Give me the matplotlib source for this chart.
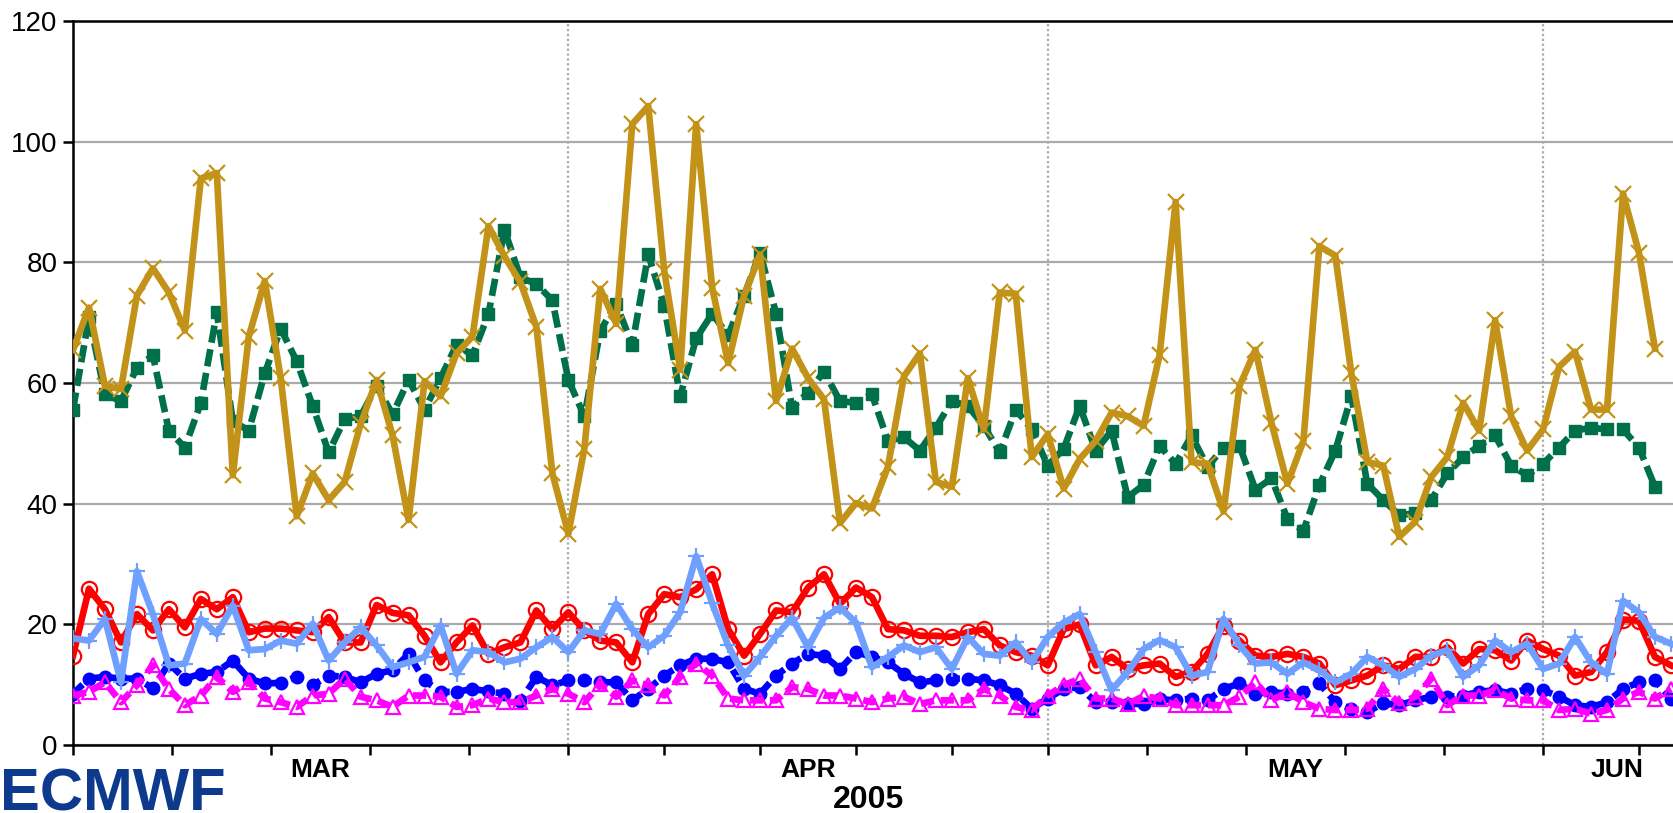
import matplotlib

matplotlib.use("Agg")
import matplotlib.dates as mdates
import matplotlib.pyplot as plt
import matplotlib.transforms as mtransforms
import pandas as pd

START_DATE = "2005-03-01"

# daily values
gold_values = [
    65.5, 72.5, 59.5, 59.0, 74.5, 79.0, 75.0, 68.7, 93.9, 94.8,
    44.7, 67.7, 76.9, 60.8, 37.9, 45.0, 40.6, 43.6, 53.2, 60.5,
    51.3, 37.3, 60.3, 57.8, 64.9, 67.7, 86.0, 81.0, 76.7, 69.3,
    45.0, 35.0, 49.1, 75.6, 69.8, 102.9, 105.9, 78.6, 62.2, 102.9,
    75.8, 63.3, 74.5, 81.3, 57.0, 65.7, 60.8, 57.3, 36.8, 40.1,
    39.2, 46.1, 61.1, 64.9, 43.6, 42.8, 60.8, 52.3, 75.0, 74.8,
    47.7, 51.5, 42.5, 47.4, 50.4, 55.1, 54.5, 52.9, 64.6, 90.0,
    46.9, 46.6, 38.7, 59.5, 65.5, 53.4, 43.3, 50.4, 82.7, 81.1,
    61.6, 46.9, 46.3, 34.5, 37.0, 44.4, 47.7, 56.7, 52.1, 70.4,
    54.5, 48.8, 52.3, 62.7, 65.2, 55.6, 55.6, 91.4, 81.6, 65.7,
]
green_values = [
    55.6, 70.9, 58.1, 57.0, 62.5, 64.6, 52.1, 49.3, 56.7, 71.7,
    53.7, 52.1, 61.6, 69.0, 63.6, 56.2, 48.5, 54.0, 54.5, 59.5,
    54.8, 60.5, 55.6, 60.8, 66.3, 64.6, 71.4, 85.4, 77.5, 76.4,
    73.7, 60.5, 54.5, 68.7, 73.1, 66.3, 81.3, 72.8, 57.8, 67.4,
    71.5, 67.9, 74.5, 81.6, 71.5, 55.9, 58.4, 61.9, 57.0, 56.7,
    58.1, 50.4, 51.0, 48.8, 52.6, 57.0, 56.2, 52.9, 48.5, 55.6,
    52.3, 46.3, 49.1, 56.2, 48.8, 52.1, 41.1, 43.1, 49.6, 46.6,
    51.3, 46.1, 49.3, 49.6, 42.3, 44.2, 37.5, 35.5, 43.1, 48.8,
    57.8, 43.3, 40.6, 38.1, 38.4, 40.6, 45.0, 47.7, 49.6, 51.3,
    46.3, 44.7, 46.6, 49.3, 52.1, 52.6, 52.3, 52.3, 49.3, 42.8,
]
red_values = [
    14.8, 25.9, 22.5, 17.0, 21.7, 19.0, 22.5, 19.5, 24.2, 22.5,
    24.5, 18.7, 19.3, 19.3, 19.0, 18.7, 21.2, 17.0, 17.0, 23.2,
    21.9, 21.5, 18.1, 13.7, 17.0, 19.8, 15.1, 16.2, 17.0, 22.3,
    19.2, 22.0, 19.0, 17.3, 17.0, 13.7, 21.7, 25.0, 24.5, 25.8,
    28.3, 19.2, 14.8, 18.4, 22.3, 22.0, 26.1, 28.3, 23.4, 26.1,
    24.5, 19.2, 19.0, 18.1, 18.1, 17.9, 18.7, 19.2, 16.5, 15.4,
    14.8, 13.2, 19.2, 20.0, 13.2, 14.6, 12.6, 13.2, 13.5, 11.3,
    12.1, 15.1, 19.8, 17.3, 14.8, 14.6, 15.1, 14.6, 13.5, 9.9,
    10.7, 11.5, 13.2, 12.6, 14.6, 14.6, 16.2, 13.5, 15.9, 15.7,
    14.0, 17.3, 15.9, 14.8, 11.5, 12.1, 15.4, 20.8, 20.6, 14.6,
    13.2,
]
lightblue_values = [
    17.7, 17.3, 20.9, 10.4, 28.8, 21.7, 13.2, 13.5, 20.9, 18.4,
    23.1, 15.7, 15.9, 17.3, 16.8, 20.1, 14.0, 17.0, 19.5, 16.5,
    12.9, 13.7, 14.6, 19.8, 11.8, 15.7, 15.4, 13.7, 14.3, 16.2,
    17.9, 15.4, 19.0, 18.4, 23.4, 19.2, 16.2, 18.1, 22.0, 31.3,
    23.5, 16.5, 11.5, 14.6, 18.1, 21.1, 16.2, 21.1, 22.8, 20.3,
    12.9, 14.6, 16.5, 15.4, 16.2, 12.6, 17.9, 15.1, 14.8, 17.0,
    13.7, 17.9, 20.3, 21.7, 15.4, 9.1, 12.1, 15.9, 17.4, 16.2,
    11.5, 12.1, 20.9, 16.5, 13.5, 13.7, 11.8, 13.7, 12.4, 10.4,
    11.8, 14.6, 13.2, 11.3, 12.6, 14.8, 15.7, 11.3, 13.2, 17.3,
    15.4, 16.8, 12.6, 13.5, 17.9, 13.7, 11.8, 23.9, 22.0, 17.9,
    16.8,
]
blue_values = [
    8.5, 11.0, 11.3, 11.0, 11.0, 9.4, 13.5, 11.0, 11.8, 12.1,
    14.0, 11.0, 10.2, 10.3, 11.3, 9.9, 11.5, 11.3, 10.4, 11.8,
    12.4, 15.1, 10.7, 8.8, 8.8, 9.3, 8.9, 8.5, 7.3, 11.3,
    9.9, 10.7, 10.7, 10.4, 10.4, 7.4, 9.3, 11.5, 13.2, 14.3,
    14.3, 13.7, 9.3, 8.5, 11.5, 13.5, 15.1, 14.8, 12.6, 15.4,
    14.6, 13.7, 11.8, 10.4, 10.7, 11.0, 11.0, 10.7, 9.9, 8.5,
    6.0, 7.7, 9.3, 9.6, 7.1, 7.1, 6.8, 6.8, 7.6, 7.4,
    7.7, 7.4, 9.3, 10.2, 8.5, 8.8, 8.5, 8.8, 10.2, 7.1,
    6.0, 5.5, 6.9, 6.6, 7.4, 8.0, 8.0, 8.2, 8.8, 9.1,
    8.5, 9.3, 9.1, 8.0, 6.6, 6.3, 7.1, 9.3, 10.4, 10.7,
    7.7,
]
magenta_values = [
    8.2, 8.8, 10.4, 7.1, 9.9, 13.2, 9.3, 6.6, 8.2, 11.3,
    8.8, 10.4, 7.7, 7.1, 6.3, 8.2, 8.5, 11.0, 8.0, 7.4,
    6.3, 8.2, 8.2, 8.0, 6.3, 6.6, 7.7, 7.1, 7.1, 8.2,
    9.3, 8.5, 7.1, 10.1, 8.0, 10.7, 9.9, 8.2, 11.3, 13.5,
    11.5, 7.7, 7.4, 7.4, 7.4, 9.6, 9.3, 8.2, 8.2, 7.7,
    7.1, 7.7, 8.0, 6.8, 7.4, 7.4, 7.4, 9.3, 8.2, 6.3,
    5.8, 8.2, 9.9, 11.0, 7.7, 7.7, 6.8, 8.1, 7.7, 6.6,
    6.6, 6.6, 6.6, 8.0, 10.4, 7.4, 8.8, 7.1, 6.0, 5.8,
    5.8, 6.0, 9.3, 6.9, 8.0, 11.0, 6.6, 8.2, 8.2, 9.1,
    7.7, 7.4, 7.4, 5.8, 6.0, 5.2, 5.8, 7.7, 8.8, 7.7,
    9.3,
]

month_starts = ["2005-03-01", "2005-04-01", "2005-05-01", "2005-06-01", "2005-07-01"]
month_labels = ["MAR", "APR", "MAY", "JUN"]
year_label = "2005"
y_ticks = [0, 20, 40, 60, 80, 100, 120]

GRID = "#AAAAAA"


def main() -> None:
    plt.rcParams["font.family"] = ["Liberation Sans", "DejaVu Sans"]

    fig = plt.figure(figsize=(16.73, 8.13), dpi=100)
    ax = fig.add_axes([73 / 1673, 68 / 813, 1600 / 1673, 724 / 813])

    dates = pd.date_range(START_DATE, periods=len(red_values), freq="D")
    x0 = mdates.date2num(pd.Timestamp(START_DATE))

    styles = [
        (blue_values, dict(color="#0000FF", ls=(0, (2.0, 1.0)), marker="o",
                           ms=9, mfc="#0000FF", mec="#0000FF", zorder=3)),
        (magenta_values, dict(color="#FF00FF", ls=(0, (2.0, 1.0)), marker="^",
                              ms=10, mfc="none", mec="#FF00FF", mew=1.6, zorder=4)),
        (red_values, dict(color="#FF0000", ls="-", marker="o", ms=11,
                          mfc="none", mec="#FF0000", mew=1.6, zorder=5)),
        (lightblue_values, dict(color="#70A0FF", ls="-", marker="+", ms=12,
                                mew=1.6, zorder=6)),
        (green_values, dict(color="#00704A", ls=(0, (2.6, 1.0)), marker="s",
                            ms=9, mfc="#00704A", mec="#00704A", zorder=7)),
        (gold_values, dict(color="#C29318", ls="-", marker="x", ms=11,
                           mew=1.6, zorder=8)),
    ]
    for values, kw in styles:
        ax.plot(dates[: len(values)], values, lw=4.8, **kw)

    # horizontal grid and dotted month separators
    ax.set_yticks(y_ticks)
    ax.yaxis.grid(True, color=GRID, lw=1.6, zorder=0)
    ax.set_axisbelow(True)
    starts = [mdates.date2num(pd.Timestamp(d)) for d in month_starts]
    for s in starts[1:4]:
        ax.axvline(s, color=GRID, lw=1.6, ls=(0, (1, 1.2)), zorder=1)

    # ticks every fifth of a month
    ticks = []
    for a, b in zip(starts[:-1], starts[1:]):
        ticks += [a + k * (b - a) / 5 for k in range(5)]
    ax.set_xticks(ticks)
    ax.set_xticklabels([])
    ax.tick_params(axis="x", direction="out", length=7, width=1.8)
    ax.tick_params(axis="y", direction="out", length=7, width=1.8,
                   labelsize=20, pad=4)

    ax.set_xlim(x0, x0 + 100.13)
    ax.set_ylim(0, 120)

    for side in ["left", "top", "bottom"]:
        ax.spines[side].set_linewidth(1.8)
    ax.spines["right"].set_visible(False)

    trans = mtransforms.blended_transform_factory(ax.transData, ax.transAxes)
    label_pos = [(starts[i] + starts[i + 1]) / 2 for i in range(3)]
    label_pos.append(x0 + 96.6)
    for pos, name in zip(label_pos, month_labels):
        ax.text(pos, -0.035, name, transform=trans, ha="center", va="center",
                fontsize=19, fontweight="bold")
    ax.text(0.497, -0.076, year_label, transform=ax.transAxes, ha="center",
            va="center", fontsize=23, fontweight="bold")

    fig.text(0, 3 / 813, "ECMWF", fontsize=43, fontweight="bold",
             color="#0E3A8E", va="baseline", ha="left")

    fig.savefig("out.png", dpi=100)
    plt.close(fig)


if __name__ == "__main__":
    main()
